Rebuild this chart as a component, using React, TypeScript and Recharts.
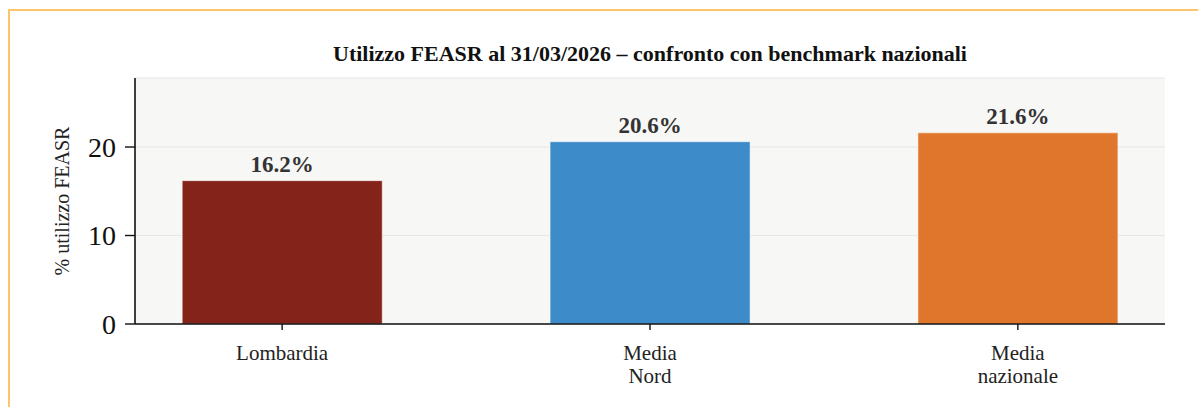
import { BarChart, Bar, XAxis, YAxis, CartesianGrid, Cell, LabelList } from "recharts"

const categories = ["Lombardia", "Media\nNord", "Media\nnazionale"]
const values = [16.2, 20.6, 21.6]
const barColors = ["#84231a", "#3d8bc8", "#e0762c"]
const yTicks = [0, 10, 20]
const title = "Utilizzo FEASR al 31/03/2026 – confronto con benchmark nazionali"
const yLabel = "% utilizzo FEASR"

const FONT = "'Liberation Serif', 'Times New Roman', serif"

const data = categories.map((name, i) => ({ x: i, name, value: values[i] }))

function CategoryTick({ x, y, payload }: any) {
  const lines = (categories[payload.value] ?? "").split("\n")
  return (
    <text x={x} y={y} textAnchor="middle" fontFamily={FONT} fontSize={21} fill="#222">
      {lines.map((line, i) => (
        <tspan key={i} x={x} dy={i === 0 ? 30 : 23}>
          {line}
        </tspan>
      ))}
    </text>
  )
}

function AxisTitle({ viewBox }: any) {
  const cy = viewBox.y + viewBox.height / 2
  return (
    <text
      x={69}
      y={cy}
      transform={`rotate(-90 69 ${cy})`}
      textAnchor="middle"
      fontFamily={FONT}
      fontSize={20}
      fill="#222"
    >
      {yLabel}
    </text>
  )
}

export default function App() {
  return (
    <div style={{ position: "fixed", left: 0, top: 0, width: 1198, height: 407, overflow: "hidden", background: "#fff" }}>
      {/* page frame around the figure */}
      <div
        style={{
          position: "absolute",
          left: 8,
          top: 9,
          width: 1260,
          height: 460,
          border: "2px solid #fdc46a",
          boxSizing: "border-box",
        }}
      />
      <div style={{ position: "absolute", left: 0, top: 0 }}>
        <BarChart width={1198} height={407} data={data} margin={{ top: 78, right: 33, bottom: 23, left: 0 }}>
          <CartesianGrid vertical={false} fill="#f7f7f5" stroke="#e6e6e4" strokeWidth={1} />
          <XAxis
            dataKey="x"
            type="number"
            domain={[-0.4, 2.4]}
            allowDataOverflow
            ticks={[0, 1, 2]}
            interval={0}
            height={60}
            tickSize={6}
            tickMargin={0}
            axisLine={{ stroke: "#111", strokeWidth: 1.6 }}
            tickLine={{ stroke: "#111", strokeWidth: 1.4 }}
            tick={<CategoryTick />}
          />
          <YAxis
            width={135}
            domain={[0, 27.8]}
            ticks={yTicks}
            allowDataOverflow
            tickSize={10}
            tickMargin={9}
            axisLine={{ stroke: "#111", strokeWidth: 1.6 }}
            tickLine={{ stroke: "#111", strokeWidth: 1.4 }}
            tick={{ fontFamily: FONT, fontSize: 28, fill: "#111" }}
            label={<AxisTitle />}
          />
          <Bar dataKey="value" barSize={200} stroke="#ffffff" strokeOpacity={0.5} strokeWidth={1} isAnimationActive={false}>
            {data.map((d, i) => (
              <Cell key={d.name} fill={barColors[i]} />
            ))}
            <LabelList
              dataKey="value"
              position="top"
              offset={9}
              formatter={(v: any) => `${Number(v).toFixed(1)}%`}
              style={{ fontFamily: FONT, fontSize: 23, fontWeight: 700, fill: "#333" }}
            />
          </Bar>
        </BarChart>
      </div>
      <svg width={1198} height={407} style={{ position: "absolute", left: 0, top: 0, pointerEvents: "none" }}>
        <text x={650} y={61} textAnchor="middle" fontFamily={FONT} fontSize={22} fontWeight={700} fill="#111">
          {title}
        </text>
      </svg>
    </div>
  )
}
